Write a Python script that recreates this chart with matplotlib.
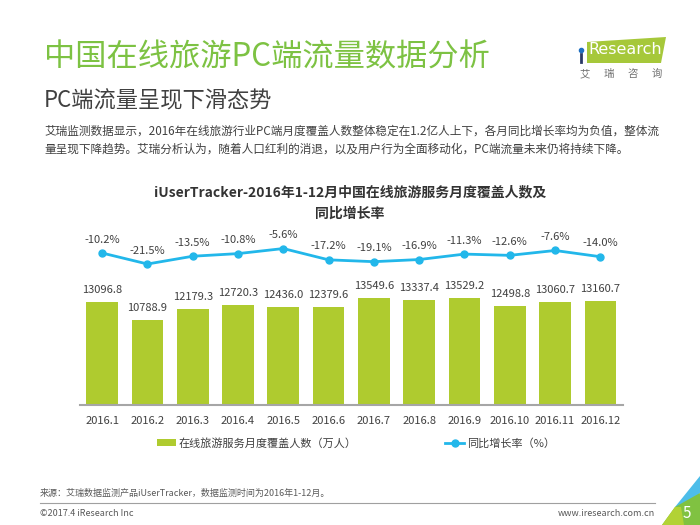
import numpy as np
import matplotlib.pyplot as plt
from matplotlib.patches import Polygon
from matplotlib.lines import Line2D

plt.rcParams['font.family'] = ['Noto Sans CJK SC', 'DejaVu Sans']

# data
months = ['2016.1', '2016.2', '2016.3', '2016.4', '2016.5', '2016.6',
          '2016.7', '2016.8', '2016.9', '2016.10', '2016.11', '2016.12']
covers = [13096.8, 10788.9, 12179.3, 12720.3, 12436.0, 12379.6,
          13549.6, 13337.4, 13529.2, 12498.8, 13060.7, 13160.7]
growth = [-10.2, -21.5, -13.5, -10.8, -5.6, -17.2,
          -19.1, -16.9, -11.3, -12.6, -7.6, -14.0]

W, H = 700, 525
green_bar = '#afcb2f'
blue_line = '#22b7ea'
txt = '#404040'

def fx(x):
    return x / W

def fy(y):
    return 1 - y / H

fig = plt.figure(figsize=(7, 5.25), dpi=100)

# ---- headings ----
fig.text(fx(44), fy(57), '中国在线旅游PC端流量数据分析', fontsize=22.5,
         color='#7dc243', va='center', ha='left')
fig.text(fx(44), fy(101), 'PC端流量呈现下滑态势', fontsize=16,
         color=txt, va='center', ha='left')
fig.text(fx(44), fy(131), '艾瑞监测数据显示，2016年在线旅游行业PC端月度覆盖人数整体稳定在1.2亿人上下，各月同比增长率均为负值，整体流',
         fontsize=8.4, color=txt, va='center', ha='left')
fig.text(fx(44), fy(149), '量呈现下降趋势。艾瑞分析认为，随着人口红利的消退，以及用户行为全面移动化，PC端流量未来仍将持续下降。',
         fontsize=8.4, color=txt, va='center', ha='left')

# chart title
fig.text(fx(350), fy(192), 'iUserTracker-2016年1-12月中国在线旅游服务月度覆盖人数及',
         fontsize=10, fontweight='bold', color='#333333', ha='center', va='center')
fig.text(fx(350), fy(214), '同比增长率', fontsize=10, fontweight='bold',
         color='#333333', ha='center', va='center')

# ---- chart ----
ax = fig.add_axes([fx(79.5), fy(405), 543.5 / W, 180 / H])
x = np.arange(len(months))
bars = ax.bar(x, covers, width=0.7, color=green_bar, label='在线旅游服务月度覆盖人数（万人）')
ax.set_xlim(-0.5, len(months) - 0.5)
ax.set_ylim(0, 22820)
for xi, v in zip(x, covers):
    ax.annotate(f'{v:.1f}', (xi, v), xytext=(0, 5), textcoords='offset points',
                ha='center', va='bottom', fontsize=8, color=txt)
ax.set_xticks(x)
ax.set_xticklabels(months, fontsize=8, color=txt)
ax.tick_params(axis='x', length=0, pad=8)
ax.set_yticks([])
for s in ['top', 'left', 'right']:
    ax.spines[s].set_visible(False)
ax.spines['bottom'].set_color('#a6a6a6')
ax.spines['bottom'].set_linewidth(1.5)

ax2 = ax.twinx()
line, = ax2.plot(x, growth, color=blue_line, lw=2, marker='o', markersize=5,
                 label='同比增长率（%）')
ax2.set_ylim(-166.4, 18.6)
ax2.set_yticks([])
for s in ['top', 'left', 'right', 'bottom']:
    ax2.spines[s].set_visible(False)
for xi, v in zip(x, growth):
    ax2.annotate(f'{v:.1f}%', (xi, v), xytext=(0, 6), textcoords='offset points',
                 ha='center', va='bottom', fontsize=8, color=txt)

fig.legend(handles=[bars, line], loc='center', bbox_to_anchor=(fx(356), fy(443)),
           ncol=2, frameon=False, fontsize=8, handlelength=1.7, handletextpad=0.2,
           columnspacing=8, labelcolor=txt)

# ---- footer ----
fig.text(fx(40), fy(493), '来源：艾瑞数据监测产品iUserTracker，数据监测时间为2016年1-12月。',
         fontsize=6.5, color='#595959', va='center', ha='left')
fig.add_artist(Line2D([fx(40), fx(655)], [fy(503), fy(503)], color='#a0a0a0', lw=0.8))
fig.text(fx(40), fy(514), '©2017.4 iResearch Inc', fontsize=6.5, color='#595959',
         va='center', ha='left')
fig.text(fx(655), fy(514), 'www.iresearch.com.cn', fontsize=6.5, color='#595959',
         va='center', ha='right')

# corner decoration
def poly(pts, color):
    fig.add_artist(Polygon([(fx(a), fy(b)) for a, b in pts], closed=True,
                           facecolor=color, edgecolor='none'))

poly([(700, 476), (675, 507), (687, 507), (700, 493)], '#4dbde9')
poly([(675, 507), (700, 493), (700, 525), (662, 525)], '#80c241')
poly([(675, 507), (662, 525), (684, 525), (681, 507)], '#b2d235')
fig.text(fx(687), fy(514), '5', fontsize=11, color='white', ha='center', va='center')

# logo
poly([(587, 42), (666, 37), (661, 63), (587, 63)], '#a6c83a')
fig.text(fx(625), fy(50), 'Research', fontsize=11.5, color='white',
         ha='center', va='center', family='DejaVu Sans')
fig.add_artist(Line2D([fx(580.5), fx(580.5)], [fy(54), fy(62)], color='#2b3a67', lw=2))
fig.add_artist(Line2D([fx(580.5)], [fy(50)], marker='o', markersize=3,
                      color='#1f6fc1', lw=0))
for i, ch in enumerate('艾瑞咨询'):
    fig.text(fx(585 + i * 24), fy(74), ch, fontsize=7.5, color='#707070',
             ha='center', va='center')

fig.savefig('out.png', dpi=100)
